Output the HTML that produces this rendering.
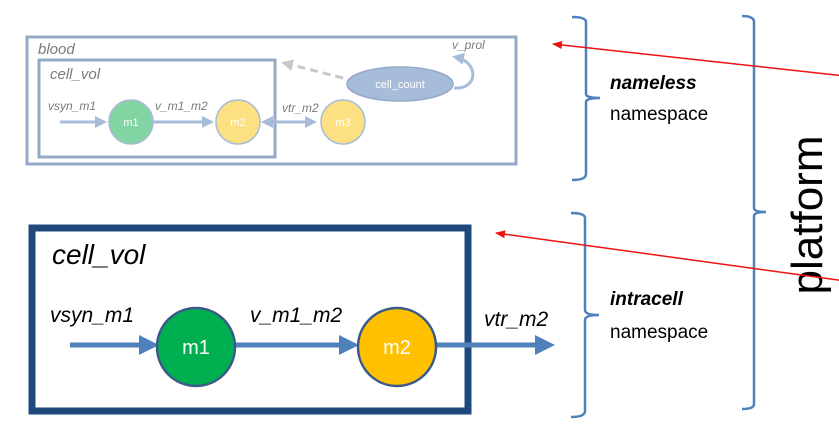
<!DOCTYPE html>
<html><head><meta charset="utf-8"><style>
html,body{margin:0;padding:0;background:#fff;}
svg{display:block;}
text{font-family:"Liberation Sans",Calibri,sans-serif;}
</style></head><body>
<svg width="839" height="442" viewBox="0 0 839 442" xmlns="http://www.w3.org/2000/svg">
<defs>
<marker id="ab" markerWidth="4" markerHeight="4" refX="3" refY="2" orient="auto" markerUnits="strokeWidth"><path d="M0,0 L4,2 L0,4z" fill="#4f81bd"/></marker>
<marker id="al" markerWidth="4" markerHeight="4" refX="3" refY="2" orient="auto-start-reverse" markerUnits="strokeWidth"><path d="M0,0 L4,2 L0,4z" fill="#a7bcd8"/></marker>
<marker id="ar" markerWidth="10" markerHeight="8" refX="9" refY="4" orient="auto" markerUnits="userSpaceOnUse"><path d="M0,0 L10,4 L0,8z" fill="#ee1111"/></marker>
<marker id="ag" markerWidth="4" markerHeight="4" refX="3" refY="2" orient="auto" markerUnits="strokeWidth"><path d="M0,0 L4,2 L0,4z" fill="#c8c8c8"/></marker>
</defs>

<rect x="27" y="37" width="489" height="127" fill="none" stroke="#93a9c6" stroke-width="3"/>
<text x="38" y="54" font-size="15" font-style="italic" fill="#7a7a7a">blood</text>
<rect x="39" y="60" width="236" height="97" fill="none" stroke="#93a9c6" stroke-width="3"/>
<text x="50" y="79" font-size="15" font-style="italic" fill="#7a7a7a">cell_vol</text>
<text x="48" y="110" font-size="12" font-style="italic" fill="#7a7a7a">vsyn_m1</text>
<text x="155" y="110" font-size="12" font-style="italic" fill="#7a7a7a">v_m1_m2</text>
<text x="282" y="112" font-size="12" font-style="italic" fill="#7a7a7a">vtr_m2</text>
<text x="452" y="49" font-size="12" font-style="italic" fill="#7a7a7a">v_prol</text>
<line x1="60" y1="122" x2="104" y2="122" stroke="#a7bcd8" stroke-width="3" marker-end="url(#al)"/>
<line x1="153" y1="122" x2="211" y2="122" stroke="#a7bcd8" stroke-width="3" marker-end="url(#al)"/>
<line x1="264" y1="122" x2="314" y2="122" stroke="#a7bcd8" stroke-width="3" marker-end="url(#al)" marker-start="url(#al)"/>
<line x1="343" y1="78" x2="284" y2="63" stroke="#c8c8c8" stroke-width="3" stroke-dasharray="8,5" marker-end="url(#ag)"/>
<path d="M454,88 C478,90 480,62 455,57" fill="none" stroke="#a7bcd8" stroke-width="3" marker-end="url(#al)"/>
<ellipse cx="400" cy="84" rx="53" ry="17" fill="#a7bcd8" stroke="#93a9c6" stroke-width="1.5"/>
<text x="400" y="88" font-size="11" fill="#fff" text-anchor="middle">cell_count</text>
<circle cx="131" cy="122" r="22" fill="#82d5a3" stroke="#a7bcd8" stroke-width="1.5"/>
<text x="131" y="126" font-size="11" fill="#fff" text-anchor="middle">m1</text>
<circle cx="238" cy="122" r="22" fill="#fde082" stroke="#a7bcd8" stroke-width="1.5"/>
<text x="238" y="126" font-size="11" fill="#fff" text-anchor="middle">m2</text>
<circle cx="343" cy="122" r="22" fill="#fde082" stroke="#a7bcd8" stroke-width="1.5"/>
<text x="343" y="126" font-size="11" fill="#fff" text-anchor="middle">m3</text>

<rect x="32" y="228" width="436" height="183" fill="none" stroke="#1f497d" stroke-width="7"/>
<text x="52" y="264" font-size="28" font-style="italic" fill="#000">cell_vol</text>
<text x="50" y="322" font-size="21" font-style="italic" fill="#000">vsyn_m1</text>
<text x="250" y="322" font-size="21" font-style="italic" fill="#000">v_m1_m2</text>
<text x="484" y="326" font-size="21" font-style="italic" fill="#000">vtr_m2</text>
<line x1="70" y1="345" x2="154" y2="345" stroke="#4f81bd" stroke-width="5" marker-end="url(#ab)"/>
<line x1="235" y1="345" x2="354" y2="345" stroke="#4f81bd" stroke-width="5" marker-end="url(#ab)"/>
<line x1="435" y1="345" x2="550" y2="345" stroke="#4f81bd" stroke-width="5" marker-end="url(#ab)"/>
<circle cx="196" cy="347" r="39" fill="#00b050" stroke="#3a5a8a" stroke-width="2.5"/>
<text x="196" y="354" font-size="20" fill="#fff" text-anchor="middle">m1</text>
<circle cx="397" cy="347" r="39" fill="#ffc000" stroke="#3a5a8a" stroke-width="2.5"/>
<text x="397" y="354" font-size="20" fill="#fff" text-anchor="middle">m2</text>

<g fill="none" stroke="#4f81bd" stroke-width="2.5">
<path d="M572,17 Q586,17 586,22 L586,94 Q586,98 600,98 Q586,98 586,102 L586,174 Q586,180 572,180"/>
<path d="M571,213 Q585,213 585,218 L585,310 Q585,315 599,315 Q585,315 585,320 L585,411 Q585,417 571,417"/>
<path d="M742,16 Q754,16 754,22 L754,208 Q754,212 766,212 Q754,212 754,216 L754,404 Q754,409 742,409"/>
</g>
<text x="610" y="89" font-size="19" font-weight="bold" font-style="italic" fill="#000">nameless</text>
<text x="610" y="120" font-size="19" fill="#000">namespace</text>
<text x="610" y="305" font-size="19" font-weight="bold" font-style="italic" fill="#000">intracell</text>
<text x="610" y="338" font-size="19" fill="#000">namespace</text>
<text transform="translate(822,215) rotate(-90)" font-size="44" fill="#000" text-anchor="middle">platform</text>

<line x1="845" y1="76" x2="553" y2="44" stroke="#ee1111" stroke-width="1.5" marker-end="url(#ar)"/>
<line x1="845" y1="281" x2="496" y2="233" stroke="#ee1111" stroke-width="1.5" marker-end="url(#ar)"/>
</svg>
</body></html>
